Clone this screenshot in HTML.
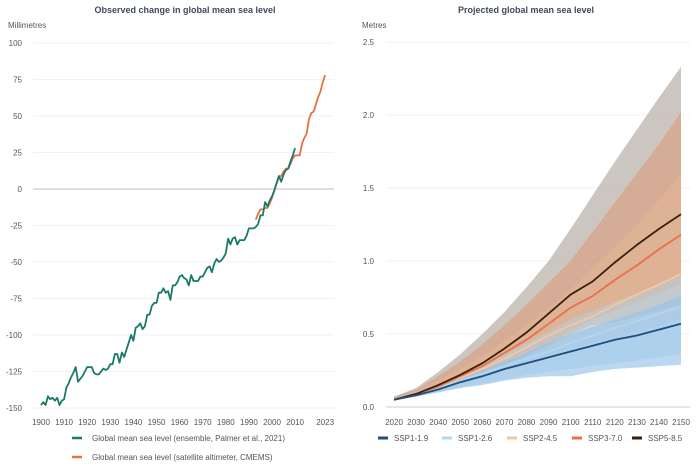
<!DOCTYPE html>
<html><head><meta charset="utf-8"><style>
html,body{margin:0;padding:0;background:#fff;width:700px;height:466px;overflow:hidden}
svg text{font-family:"Liberation Sans",sans-serif}
</style></head><body>
<svg id="s" width="700" height="466" xmlns="http://www.w3.org/2000/svg"></svg>
<script>
var s=document.getElementById('s'),h='';
function T(x,y,t,o){h+='<text x="'+x+'" y="'+y+'" '+(o||'')+'>'+t+'</text>';}
// titles
T(185,13,'Observed change in global mean sea level','text-anchor="middle" font-size="9" font-weight="bold" fill="#3d4a5c"');
T(526,13,'Projected global mean sea level','text-anchor="middle" font-size="9" font-weight="bold" fill="#3d4a5c"');
T(8,28,'Millimetres','font-size="8" fill="#555"');
T(362,28,'Metres','font-size="8" fill="#555"');
// left axes
function ly(v){return 189-v*1.46;}
function lx(y){return 41+(y-1900)*2.31;}
for(var v=-150;v<=100;v+=25){var y=ly(v);
 h+='<line x1="33" x2="334" y1="'+y+'" y2="'+y+'" stroke="'+(v==0?'#ccc':'#f2f2f2')+'" stroke-width="'+(v==0?1.2:1)+'"/>';
 T(22,y+3,v,'text-anchor="end" font-size="8" fill="#555"');}
[1900,1910,1920,1930,1940,1950,1960,1970,1980,1990,2000,2010,2023].forEach(function(yr){T(lx(yr),425,yr,'text-anchor="middle" font-size="8" fill="#555"');});
var g=[-148,-146,-148,-142,-144,-143,-145,-143,-148,-145,-144,-136,-133,-129,-126,-122,-132,-130,-128,-125,-122,-122,-122,-126,-127,-127,-125,-123,-124,-123,-120,-120,-113,-113,-119,-112,-115,-110,-105,-100,-104,-95,-94,-92,-96,-94,-86,-86,-80,-78,-78,-71,-71,-68,-71,-70,-76,-66,-66,-64,-60,-59,-61,-62,-66,-59,-63,-63,-63,-60,-60,-57,-54,-53,-57,-51,-48,-50,-49,-47,-44,-34,-38,-34,-33,-38,-35,-35,-35,-32,-27,-27,-27,-26,-24,-18,-18,-9,-12,-8,-5,-1,4,9,5,10,13,14,19,23,28];
var o=[-21,-17,-14,-14,-13,-13,-10,-6,-1,4,8,9,12,14,14,17,21,23,23,23,31,35,38,48,52,53,58,63,67,73,78];
function pl(arr,st,c,w){var p=arr.map(function(v,i){return lx(st+i).toFixed(1)+','+ly(v).toFixed(1)}).join(' ');h+='<polyline points="'+p+'" fill="none" stroke="'+c+'" stroke-width="'+w+'" stroke-linejoin="round"/>';}
pl(o,1993,'#e8703f',1.8);
pl(g,1900,'#1a7a6a',1.8);
h+='<line x1="72" x2="82" y1="438" y2="438" stroke="#1a7a6a" stroke-width="2.5"/>';
T(92,441,'Global mean sea level (ensemble, Palmer et al., 2021)','font-size="8" fill="#555"');
h+='<line x1="72" x2="82" y1="457" y2="457" stroke="#e8703f" stroke-width="2.5"/>';
T(92,460,'Global mean sea level (satellite altimeter, CMEMS)','font-size="8" fill="#555"');
// right axes
function ry(v){return 407-v*146;}
function rx(i){return 394+i*22.08;}
for(var k=0;k<=5;k++){var v=k*0.5,y=ry(v);
 h+='<line x1="386" x2="690" y1="'+y+'" y2="'+y+'" stroke="'+(k==0?'#ccc':'#f2f2f2')+'"/>';
 T(374,y+3,v.toFixed(1),'text-anchor="end" font-size="8" fill="#555"');}
for(var i=0;i<14;i++)T(rx(i),425,2020+i*10,'text-anchor="middle" font-size="8" fill="#555"');
function band(hi,lo,c){var p=[];hi.forEach(function(v,i){p.push(rx(i).toFixed(1)+','+ry(v).toFixed(1))});for(var i=lo.length-1;i>=0;i--)p.push(rx(i).toFixed(1)+','+ry(lo[i]).toFixed(1));h+='<polygon points="'+p.join(' ')+'" fill="'+c+'"/>';}
band([.07,.13,.24,.36,.50,.65,.82,1.0,1.22,1.45,1.68,1.90,2.12,2.33],[.05,.08,.12,.17,.22,.28,.35,.42,.50,.56,.58,.62,.66,.70],'rgba(170,160,150,0.6)');
band([.07,.12,.21,.31,.43,.56,.70,.85,1.0,1.2,1.4,1.6,1.8,2.02],[.05,.08,.12,.17,.23,.29,.36,.43,.52,.6,.66,.72,.78,.84],'rgba(225,140,100,0.45)');
band([.06,.11,.18,.26,.35,.45,.56,.68,.8,.95,1.1,1.25,1.42,1.6],[.05,.08,.11,.15,.2,.25,.3,.35,.4,.44,.48,.52,.56,.6],'rgba(240,190,150,0.35)');
band([.06,.10,.16,.22,.29,.36,.44,.52,.6,.66,.72,.78,.84,.9],[.05,.07,.1,.13,.16,.19,.22,.24,.26,.28,.30,.32,.34,.36],'rgba(175,208,235,0.5)');
band([.06,.09,.14,.19,.25,.31,.37,.44,.5,.55,.6,.65,.7,.76],[.05,.07,.1,.13,.15,.18,.2,.21,.21,.24,.26,.27,.28,.29],'rgba(150,195,232,0.65)');
function rl(a,c){h+='<polyline points="'+a.map(function(v,i){return rx(i).toFixed(1)+','+ry(v).toFixed(1)}).join(' ')+'" fill="none" stroke="'+c+'" stroke-width="1.8"/>';}
rl([.05,.08,.13,.18,.23,.28,.33,.38,.44,.49,.54,.59,.64,.69],'#b3d6f0');
rl([.05,.09,.14,.20,.26,.33,.41,.49,.56,.62,.70,.77,.84,.91],'#f3c8a0');
rl([.05,.09,.14,.21,.28,.37,.46,.57,.68,.76,.87,.97,1.08,1.18],'#e8704a');
rl([.05,.09,.15,.22,.30,.40,.51,.64,.77,.86,.99,1.11,1.22,1.32],'#3a1f10');
rl([.05,.08,.12,.17,.21,.26,.30,.34,.38,.42,.46,.49,.53,.57],'#1f4e79');
[[378,'#1f4e79','SSP1-1.9'],[442,'#b3d6f0','SSP1-2.6'],[507,'#f3c8a0','SSP2-4.5'],[572,'#e8704a','SSP3-7.0'],[632,'#3a1f10','SSP5-8.5']].forEach(function(l){
 h+='<line x1="'+l[0]+'" x2="'+(l[0]+10)+'" y1="438" y2="438" stroke="'+l[1]+'" stroke-width="3"/>';
 T(l[0]+16,441,l[2],'font-size="8" fill="#555"');});
s.innerHTML=h;
</script>
</body></html>
